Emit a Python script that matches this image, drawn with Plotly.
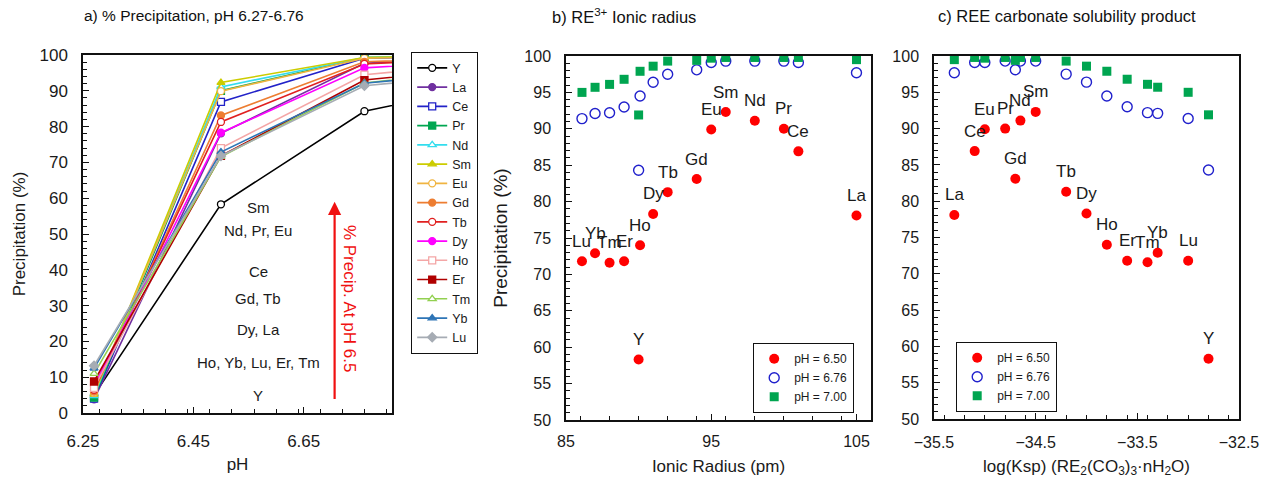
import plotly.graph_objects as go

# ---- data -------------------------------------------------------------
elements = ["Y", "La", "Ce", "Pr", "Nd", "Sm", "Eu", "Gd", "Tb", "Dy", "Ho", "Er", "Tm", "Yb", "Lu"]
ionic_radius_pm = [90.0, 105.0, 101.0, 100.0, 98.0, 96.0, 95.0, 94.0, 92.0, 91.0, 90.1, 89.0, 88.0, 87.0, 86.1]
log_ksp = [-32.8, -35.3, -35.1, -34.8, -34.65, -34.5, -35.0, -34.7, -34.2, -34.0, -33.8, -33.6, -33.4, -33.3, -33.0]

ph_values = [6.27, 6.50, 6.76, 7.00]
prec_ph627 = [5.0, 3.8, 4.0, 4.3, 4.8, 5.2, 5.6, 6.0, 6.5, 7.5, 7.0, 8.8, 11.0, 12.5, 13.2]
prec_ph650 = [58.3, 78.1, 86.9, 90.0, 91.1, 92.3, 89.9, 83.1, 81.3, 78.3, 74.0, 71.8, 71.6, 72.9, 71.8]
prec_ph676 = [84.3, 97.7, 99.1, 99.3, 99.3, 99.3, 99.1, 98.1, 97.5, 96.4, 94.5, 93.0, 92.2, 92.1, 91.4]
prec_ph700 = [91.9, 99.5, 99.8, 99.8, 99.8, 99.8, 99.7, 99.4, 99.3, 98.6, 97.9, 96.8, 96.1, 95.7, 95.0]

group_labels = ["Sm", "Nd, Pr, Eu", "Ce", "Gd, Tb", "Dy, La", "Ho, Yb, Lu, Er, Tm", "Y"]
group_label_y = [57.3, 51.1, 39.4, 32.1, 23.2, 14.2, 5.0]

# ---- styles -----------------------------------------------------------
series_color = {
    "Y": "#000000", "La": "#7030A0", "Ce": "#2222C8", "Pr": "#00A651", "Nd": "#33DDEE",
    "Sm": "#CCCC00", "Eu": "#F0B440", "Gd": "#ED7D31", "Tb": "#E02020", "Dy": "#FF00FF",
    "Ho": "#F4A6A6", "Er": "#B00000", "Tm": "#92D050", "Yb": "#2E75B6", "Lu": "#A6ACB4",
}
series_symbol = {
    "Y": ("circle", True), "La": ("circle", False), "Ce": ("square", True), "Pr": ("square", False),
    "Nd": ("triangle-up", True), "Sm": ("triangle-up", False), "Eu": ("circle", True),
    "Gd": ("circle", False), "Tb": ("circle", True), "Dy": ("circle", False),
    "Ho": ("square", True), "Er": ("square", False), "Tm": ("triangle-up", True),
    "Yb": ("triangle-up", False), "Lu": ("diamond", False),
}

W, H = 1265, 480
FONT = "Liberation Sans, Arial, sans-serif"


def px_x(p):
    return p / W


def px_y(p):
    return 1 - p / H


fig = go.Figure()

# ---- panel a: precipitation vs pH --------------------------------------
for i, el in enumerate(elements):
    col = series_color[el]
    sym, hollow = series_symbol[el]
    fig.add_trace(go.Scatter(
        x=ph_values,
        y=[prec_ph627[i], prec_ph650[i], prec_ph676[i], prec_ph700[i]],
        mode="lines+markers", name=el,
        line=dict(color=col, width=1.6),
        marker=dict(symbol=sym, size=7, color="white" if hollow else col,
                    line=dict(color=col, width=1.3)),
        xaxis="x", yaxis="y", legend="legend",
    ))

# ---- panels b and c: three pH levels ----------------------------------
ph_series = [
    ("pH = 6.50", prec_ph650, dict(symbol="circle", size=10, color="#FF0000", line=dict(width=0))),
    ("pH = 6.76", prec_ph676, dict(symbol="circle-open", size=10, color="#2020CC", line=dict(width=1.4))),
    ("pH = 7.00", prec_ph700, dict(symbol="square", size=9, color="#00A550", line=dict(width=0))),
]
for xs, xa, ya, lg in [(ionic_radius_pm, "x2", "y2", "legend2"), (log_ksp, "x3", "y3", "legend3")]:
    for name, vals, mk in ph_series:
        fig.add_trace(go.Scatter(x=xs, y=vals, mode="markers", name=name, marker=mk,
                                 xaxis=xa, yaxis=ya, legend=lg))

annotations = []
for xs, xa, ya in [(ionic_radius_pm, "x2", "y2"), (log_ksp, "x3", "y3")]:
    for el, xv, yv in zip(elements, xs, prec_ph650):
        annotations.append(dict(x=xv, y=yv, xref=xa, yref=ya, text=el, showarrow=False,
                                yshift=20, font=dict(family=FONT, size=17, color="#1a1a1a")))

for txt, yv in zip(group_labels, group_label_y):
    annotations.append(dict(x=6.568, y=yv, xref="x", yref="y", text=txt, showarrow=False,
                            font=dict(family=FONT, size=15, color="#1a1a1a")))

# red arrow and rotated caption
annotations.append(dict(x=6.706, y=59, ax=6.706, ay=3.5, xref="x", yref="y", axref="x", ayref="y",
                        text="", showarrow=True, arrowhead=2, arrowsize=1.2, arrowwidth=2.2,
                        arrowcolor="#F01010"))
annotations.append(dict(x=6.733, y=32, xref="x", yref="y", text="% Precip. At pH 6.5",
                        textangle=90, showarrow=False,
                        font=dict(family=FONT, size=17, color="#F01010")))

# panel titles
for txt, cx, fs in [("a) % Precipitation, pH 6.27-6.76", 194, 15.5),
                    ("b) RE<sup>3+</sup> Ionic radius", 624, 16.5),
                    ("c) REE carbonate solubility product", 1067, 16.5)]:
    annotations.append(dict(x=px_x(cx), y=px_y(16), xref="paper", yref="paper", text=txt,
                            showarrow=False, xanchor="center", yanchor="middle",
                            font=dict(family=FONT, size=fs, color="#111111")))


def axis(domain, rng, dtick, minor_dtick, title, tfs, title_fs, standoff, label_gap):
    return dict(domain=domain, range=rng, dtick=dtick, tick0=rng[0], automargin=False,
                ticks="inside", ticklen=6, tickwidth=1.2, tickcolor="#111",
                ticklabelstandoff=label_gap,
                showline=True, linecolor="#111", linewidth=1.5, mirror=True,
                showgrid=False, zeroline=False,
                tickfont=dict(family=FONT, size=tfs, color="#1a1a1a"),
                minor=dict(dtick=minor_dtick, ticks="inside", ticklen=4, tickwidth=1, tickcolor="#111"),
                title=dict(text=title, font=dict(family=FONT, size=title_fs, color="#1a1a1a"),
                           standoff=standoff))


layout_axes = dict(
    xaxis=dict(axis([px_x(83), px_x(392)], [6.25, 6.81], 0.2, 0.04, "pH", 17, 17, 8, 12), anchor="y"),
    yaxis=dict(axis([px_y(413), px_y(55)], [0, 100], 10, 2, "Precipitation (%)", 17, 17, 10, 10), anchor="x"),
    xaxis2=dict(axis([px_x(566), px_x(871)], [85, 106], 10, 2, "Ionic Radius (pm)", 16, 17, 11, 6), anchor="y2"),
    yaxis2=dict(axis([px_y(420), px_y(56)], [50, 100], 5, 1, "Precipitation (%)", 16, 19, 12, 10), anchor="x2"),
    xaxis3=dict(axis([px_x(934), px_x(1239)], [-35.5, -32.5], 1, 0.2,
                     "log(Ksp) (RE<sub>2</sub>(CO<sub>3</sub>)<sub>3</sub>·nH<sub>2</sub>O)", 16, 17, 10, 8),
                anchor="y3"),
    yaxis3=dict(axis([px_y(419), px_y(56)], [50, 100], 5, 1, "", 16, 17, 10, 10), anchor="x3"),
)

legend_common = dict(bgcolor="white", bordercolor="#111", borderwidth=1.2,
                     xanchor="left", yanchor="top", tracegroupgap=0, itemwidth=30)

fig.update_layout(
    width=W, height=H,
    margin=dict(l=0, r=0, t=0, b=0, autoexpand=False),
    paper_bgcolor="white", plot_bgcolor="white",
    font=dict(family=FONT, color="#1a1a1a"),
    annotations=annotations,
    legend=dict(legend_common, x=px_x(411), y=px_y(52), font=dict(family=FONT, size=12.5)),
    legend2=dict(legend_common, x=px_x(753), y=px_y(343), font=dict(family=FONT, size=12)),
    legend3=dict(legend_common, x=px_x(956), y=px_y(342), font=dict(family=FONT, size=12)),
    **layout_axes,
)

fig.write_html("out.html")
